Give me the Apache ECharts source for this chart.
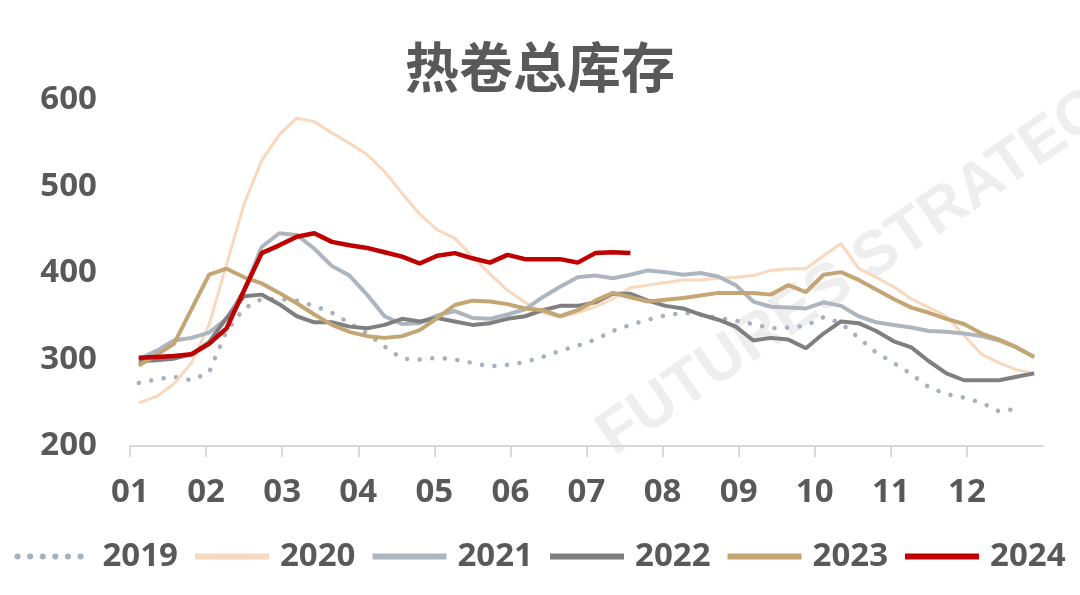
<!DOCTYPE html>
<html>
<head>
<meta charset="utf-8">
<script src="https://cdn.jsdelivr.net/npm/echarts@6/dist/echarts.min.js"></script>
<style>
  html, body { margin: 0; padding: 0; background: #fff; }
  #chart { width: 1080px; height: 595px; }
</style>
</head>
<body>
<div id="chart"></div>
<script>
// 周次（1-52），横轴按月份显示
var weeks = [];
for (var i = 1; i <= 52; i++) weeks.push(i);
var monthLabels = ['01','02','03','04','05','06','07','08','09','10','11','12'];
var yearNames = ['2019','2020','2021','2022','2023','2024'];

// 热卷总库存（万吨），按周
var y2019 = [273,277,280,276,285,333,359,370,370,368,362,354,342,330,315,301,300,302,300,296,292,294,297,303,310,316,323,333,340,346,351,354,352,348,345,341,336,337,339,349,342,325,308,296,283,268,260,256,250,240,243,null];
var y2020 = [250,257,272,296,340,410,480,530,560,579,575,562,550,537,517,492,468,450,440,419,399,380,366,354,349,354,361,370,383,386,389,392,392,394,395,397,403,405,405,420,434,405,395,384,370,360,350,328,306,296,288,284];
var y2021 = [300,310,322,325,331,347,380,430,446,444,428,408,397,375,350,341,342,351,356,348,347,352,358,372,384,395,397,394,398,403,401,398,400,396,386,367,361,360,359,366,362,350,343,340,337,333,332,330,327,322,314,303];
var y2022 = [298,299,301,306,320,348,373,375,364,350,343,343,338,336,340,347,344,348,344,340,342,347,350,357,362,362,366,376,376,368,362,359,352,346,338,322,325,323,313,330,344,342,333,321,314,298,284,276,276,276,280,284];
var y2023 = [293,305,318,358,398,405,395,388,377,365,352,340,332,327,325,327,334,348,363,368,367,364,359,357,350,357,368,377,372,367,369,371,374,377,377,377,375,386,378,398,401,392,381,370,360,354,347,341,330,323,314,303];
var y2024 = [302,303,304,306,318,336,380,423,432,442,446,436,432,429,424,419,411,420,423,417,412,421,416,416,416,412,423,424,423];

var colors = ['#A7B0BD', '#FAD8BD', '#ADB5BF', '#7F7F7F', '#C4A574', '#C00000'];
var widths = [4.5, 3, 4, 4, 4, 4.5];
var allData = [y2019, y2020, y2021, y2022, y2023, y2024];

function toPoints(vals) {
    // 周次换算为月份位置
    return vals.map(function (v, i) {
        return [(weeks[i] - 0.5) * 12 / 52, v];
    });
}

var series = yearNames.map(function (name, k) {
    var ls = { color: colors[k], width: widths[k] };
    if (k === 0) {
        ls.type = [0.1, 12.5];
        ls.cap = 'round';
    }
    return {
        name: name,
        type: 'line',
        showSymbol: false,
        symbol: 'none',
        smooth: false,
        data: toPoints(allData[k]),
        lineStyle: ls,
        itemStyle: { color: colors[k] },
        z: 2 + k
    };
});

var chart = echarts.init(document.getElementById('chart'));
var font = 'Noto Sans';
var option = {
    animation: false,
    backgroundColor: '#fff',
    title: {
        text: '热卷总库存',
        left: 'center',
        top: 35,
        textStyle: {
            fontFamily: 'Noto Sans CJK SC',
            fontSize: 54,
            fontWeight: 'bold',
            color: '#595959'
        }
    },
    graphic: [{
        type: 'text',
        x: 622,
        y: 468,
        rotation: 0.6,
        z: 0,
        silent: true,
        style: {
            text: 'FUTURES STRATEGY',
            fontFamily: 'Liberation Sans',
            fontSize: 62,
            fontWeight: 'bold',
            fill: 'rgba(170,170,170,0.2)',
            textAlign: 'left',
            textVerticalAlign: 'bottom'
        }
    }],
    grid: {
        left: 130,
        right: 37,
        top: 100,
        bottom: 149
    },
    legend: {
        bottom: 22,
        left: 'center',
        width: 1080,
        padding: 0,
        itemWidth: 74,
        itemHeight: 14,
        itemGap: 14,
        data: yearNames,
        lineStyle: { width: 6 },
        itemStyle: { opacity: 0 },
        textStyle: {
            fontFamily: font,
            fontSize: 33,
            fontWeight: 'bold',
            color: '#595959',
            padding: [0, 0, 0, 6]
        }
    },
    xAxis: {
        type: 'value',
        min: 0,
        max: 12,
        interval: 1,
        axisLine: { show: true, lineStyle: { color: '#D9D9D9', width: 2 } },
        axisTick: { show: true, length: 11, lineStyle: { color: '#D9D9D9', width: 2 } },
        splitLine: { show: false },
        axisLabel: {
            margin: 30,
            fontFamily: font,
            fontSize: 33,
            fontWeight: 'bold',
            color: '#595959',
            showMaxLabel: false,
            formatter: function (v) {
                return v < 12 ? monthLabels[v] : '';
            }
        }
    },
    yAxis: {
        type: 'value',
        min: 200,
        max: 600,
        interval: 100,
        axisLine: { show: false },
        axisTick: { show: false },
        splitLine: { show: false },
        axisLabel: {
            margin: 33,
            fontFamily: font,
            fontSize: 33,
            fontWeight: 'bold',
            color: '#595959'
        }
    },
    series: series
};
chart.setOption(option);
</script>
</body>
</html>
